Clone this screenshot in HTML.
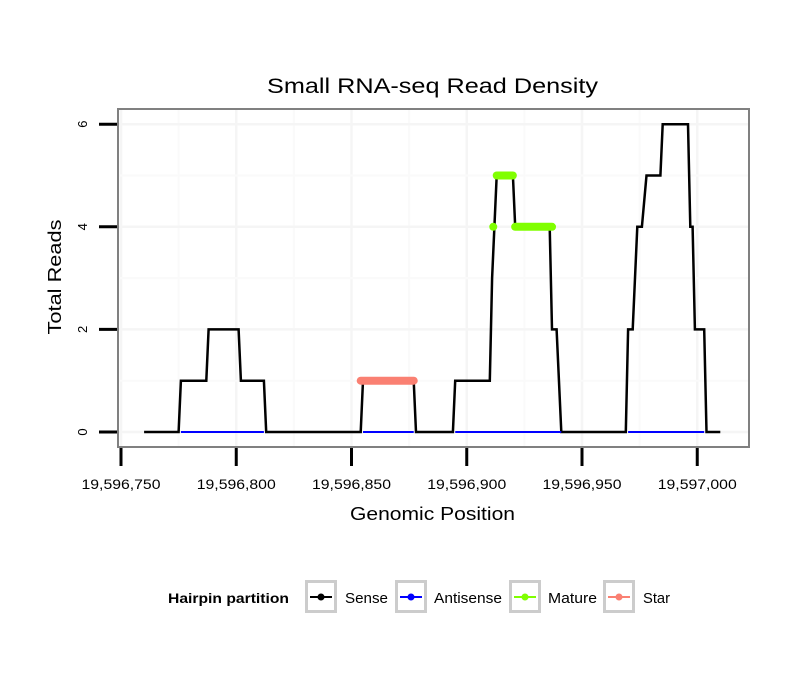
<!DOCTYPE html>
<html><head><meta charset="utf-8"><style>
body{margin:0;background:#fff;font-family:"Liberation Sans",sans-serif}
</style></head><body>
<svg id="chart" width="810" height="690" xmlns="http://www.w3.org/2000/svg" font-family="Liberation Sans, sans-serif">
<rect width="810" height="690" fill="#fff"/>
<text x="267" y="93" font-size="21" textLength="331" lengthAdjust="spacingAndGlyphs">Small RNA-seq Read Density</text>
<g id="grid"></g>
<g id="series"></g>
<rect x="118" y="109" width="631" height="338" fill="none" stroke="#808080" stroke-width="2"/>
<g id="axes"></g>
<text x="350" y="520" font-size="18" textLength="165" lengthAdjust="spacingAndGlyphs">Genomic Position</text>
<text transform="translate(61,277) rotate(-90)" text-anchor="middle" font-size="18" textLength="115" lengthAdjust="spacingAndGlyphs">Total Reads</text>
<g>
<text x="168" y="603" font-size="14" font-weight="bold" textLength="121" lengthAdjust="spacingAndGlyphs">Hairpin partition</text>
<g id="legend"></g>
</g>
</svg>
<script>
const sensePos=[760,775,776,787,788,801,802,812,813,854,855,877,878,894,895,910,911,912,913,920,921,936,937,939,941,969,970,972,974,976,978,984,985,996,997,998,999,1003,1004,1010];
const senseVal=[0,0,1,1,2,2,1,1,0,0,1,1,0,0,1,1,3,4,5,5,4,4,2,2,0,0,2,2,4,4,5,5,6,6,4,4,2,2,0,0];
const antisenseStart=[776,855,895,970];
const antisenseEnd=[812,877,941,1003];
const matureStart=[911.5,913,921];
const matureEnd=[911.5,920,937];
const matureVal=[4,5,4];
const starStart=[854];
const starEnd=[877];
const starVal=[1];
const xTicks=[19596750,19596800,19596850,19596900,19596950,19597000];
const xTickLabels=["19,596,750","19,596,800","19,596,850","19,596,900","19,596,950","19,597,000"];
const yTicks=[0,2,4,6];
const base=19596000;
const NS="http://www.w3.org/2000/svg";
const X=p=>121+(p-750)*2.305;
const XT=t=>X(t-base);
const Y=v=>432-v*51.3;
function mk(tag,attrs,parent){const e=document.createElementNS(NS,tag);for(const k in attrs)e.setAttribute(k,attrs[k]);parent.appendChild(e);return e;}
const grid=document.getElementById('grid'),ser=document.getElementById('series'),axes=document.getElementById('axes'),leg=document.getElementById('legend');
for(let t=19596725;t<=19597025;t+=25){const x=XT(t);if(x<119||x>748)continue;const major=(t%50===0);
 const l=mk('line',{x1:x,x2:x,y1:110,y2:446,stroke:major?'#f5f5f5':'#fafafa','stroke-width':major?2.5:2},grid);
 }
for(let v=0;v<=6.5;v+=1){const y=Y(v);const major=(v%2===0);
 const l=mk('line',{x1:119,x2:748,y1:y,y2:y,stroke:major?'#f5f5f5':'#fafafa','stroke-width':major?2.5:2},grid);
 }
const pts=sensePos.map((p,i)=>X(p).toFixed(1)+','+Y(senseVal[i]).toFixed(1)).join(' ');
const sl=mk('polyline',{points:pts,fill:'none',stroke:'#000','stroke-width':2.5,'stroke-linejoin':'miter'},ser);

antisenseStart.forEach((s,i)=>{const l=mk('line',{x1:X(s),x2:X(antisenseEnd[i]),y1:Y(0),y2:Y(0),stroke:'#0000ff','stroke-width':2},ser);
 });
matureStart.forEach((s,i)=>{const l=mk('line',{x1:X(s),x2:X(matureEnd[i]),y1:Y(matureVal[i]),y2:Y(matureVal[i]),stroke:'#80ff00','stroke-width':8,'stroke-linecap':'round'},ser);
 });
starStart.forEach((s,i)=>{const l=mk('line',{x1:X(s),x2:X(starEnd[i]),y1:Y(starVal[i]),y2:Y(starVal[i]),stroke:'#fa8072','stroke-width':8,'stroke-linecap':'round'},ser);
 });
xTicks.forEach((t,i)=>{const x=XT(t);
 const l=mk('line',{x1:x,x2:x,y1:448,y2:466,stroke:'#000','stroke-width':3},axes);
 
 const tx=mk('text',{x:x-39.5,y:489,'font-size':14,textLength:79,lengthAdjust:'spacingAndGlyphs'},axes);tx.textContent=xTickLabels[i];
 });
yTicks.forEach(v=>{const y=Y(v);
 const l=mk('line',{x1:99,x2:117,y1:y,y2:y,stroke:'#000','stroke-width':3},axes);
 
 const tx=mk('text',{transform:`translate(87,${y}) rotate(-90)`,'text-anchor':'middle','font-size':13},axes);tx.textContent=v;
 });
const legNames=["Sense","Antisense","Mature","Star"];
const legColors=["#000","#0000ff","#80ff00","#fa8072"];
const legBox=[305,395,509,603];
const legTextX=[345,434,548,643];
const legTextW=[43,68,49,27];
legNames.forEach((n,i)=>{const bx=legBox[i];
 const g=mk('g',{},leg);
 mk('rect',{x:bx+1.5,y:581.5,width:29,height:30,fill:'#fff',stroke:'#cccccc','stroke-width':3},g);
 mk('line',{x1:bx+5,x2:bx+27,y1:597,y2:597,stroke:legColors[i],'stroke-width':2},g);
 mk('circle',{cx:bx+16,cy:597,r:3.5,fill:legColors[i]},g);
 const t=mk('text',{x:legTextX[i],y:603,'font-size':15,textLength:legTextW[i],lengthAdjust:'spacingAndGlyphs'},g);t.textContent=n;});
</script>
</body></html>
